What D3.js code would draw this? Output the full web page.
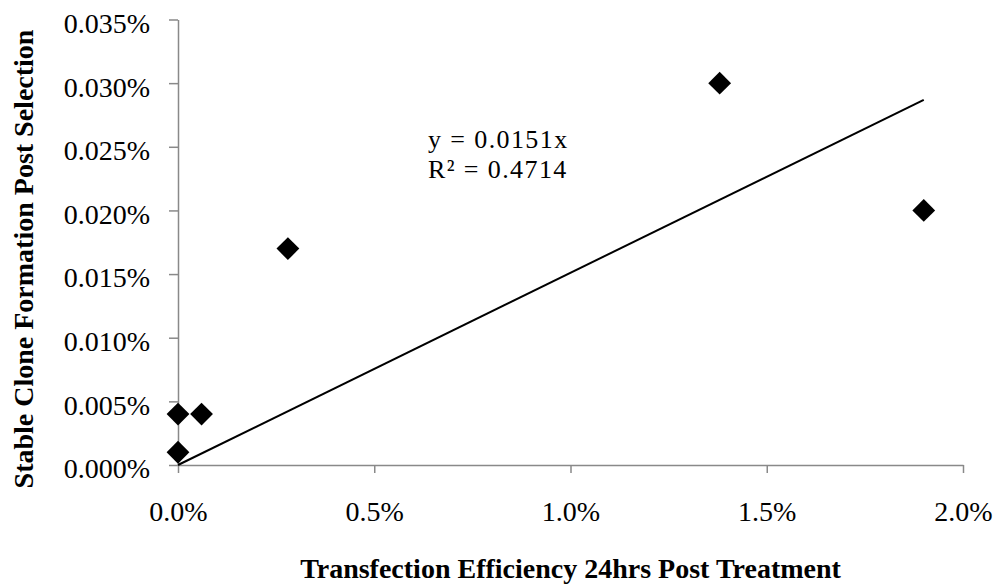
<!DOCTYPE html>
<html lang="en">
<head>
  <meta charset="UTF-8">
  <title>Stable clone formation vs transfection efficiency</title>
  <script src="https://d3js.org/d3.v7.min.js"></script>
  <style>
    body { margin: 0; background: #fff; }
    text { font-family: 'Liberation Serif', 'Times New Roman', serif; fill: #000; }
    .tick-label { font-size: 28px; }
    .axis-title { font-size: 28px; font-weight: bold; }
    .eq { font-size: 26px; letter-spacing: 1.4px; }
  </style>
</head>
<body>
  <script>
    // values in percent
    var transfection = [0.0, 0.0, 0.06, 0.28, 1.38, 1.90];
    var stableClone = [0.001, 0.004, 0.004, 0.017, 0.030, 0.020];
    var xTicks = [0, 0.5, 1.0, 1.5, 2.0];
    var yTicks = [0, 0.005, 0.010, 0.015, 0.020, 0.025, 0.030, 0.035];
    var slope = 0.0151;
    var rSquared = 0.4714;

    var width = 997, height = 585;
    var plotLeft = 178, plotRight = 963, plotTop = 19.5, plotBottom = 465;

    var svg = d3.select("body").append("svg")
      .attr("width", width)
      .attr("height", height);

    var x = d3.scaleLinear().domain([0, 2]).range([plotLeft, plotRight]);
    var y = d3.scaleLinear().domain([0, 0.035]).range([plotBottom, plotTop]);

    var axisColor = "#898989";

    // y axis
    var yAxis = svg.append("g")
      .attr("transform", "translate(" + plotLeft + ",0)")
      .call(d3.axisLeft(y).tickValues(yTicks).tickSizeInner(9).tickSizeOuter(0)
        .tickFormat(function (d) { return d.toFixed(3) + "%"; }));
    yAxis.attr("font-family", null).attr("font-size", null);
    yAxis.select(".domain").attr("stroke", axisColor).attr("stroke-width", 1.5);
    yAxis.selectAll(".tick line").attr("stroke", axisColor).attr("stroke-width", 1.5);
    yAxis.selectAll(".tick text")
      .attr("class", "tick-label")
      .attr("x", -28)
      .attr("dy", "0.46em");

    // x axis
    var xAxis = svg.append("g")
      .attr("transform", "translate(0," + plotBottom + ")")
      .call(d3.axisBottom(x).tickValues(xTicks).tickSizeInner(8).tickSizeOuter(0)
        .tickFormat(function (d) { return d.toFixed(1) + "%"; }));
    xAxis.attr("font-family", null).attr("font-size", null);
    xAxis.select(".domain").attr("stroke", axisColor).attr("stroke-width", 1.5);
    xAxis.selectAll(".tick line").attr("stroke", axisColor).attr("stroke-width", 1.5);
    xAxis.selectAll(".tick text")
      .attr("class", "tick-label")
      .attr("y", 56)
      .attr("dy", 0);

    // linear trendline through origin
    var xMax = d3.max(transfection);
    svg.append("line")
      .attr("x1", x(0)).attr("y1", y(0))
      .attr("x2", x(xMax)).attr("y2", y(slope * xMax))
      .attr("stroke", "#000")
      .attr("stroke-width", 2);

    // points as diamonds
    var pts = transfection.map(function (d, i) { return { x: d, y: stableClone[i] }; });
    svg.selectAll(".pt")
      .data(pts)
      .enter().append("path")
      .attr("class", "pt")
      .attr("d", d3.symbol().type(d3.symbolSquare).size(260))
      .attr("transform", function (d) { return "translate(" + x(d.x) + "," + y(d.y) + ") rotate(45)"; })
      .attr("fill", "#000");

    // equation
    var eq = svg.append("text").attr("class", "eq");
    eq.append("tspan").attr("x", 428).attr("y", 148).text("y = " + slope + "x");
    eq.append("tspan").attr("x", 428).attr("y", 178).text("R\u00b2 = " + rSquared);

    // axis titles
    svg.append("text")
      .attr("class", "axis-title")
      .attr("text-anchor", "middle")
      .attr("x", (plotLeft + plotRight) / 2)
      .attr("y", 578)
      .text("Transfection Efficiency 24hrs Post Treatment");

    svg.append("text")
      .attr("class", "axis-title")
      .attr("text-anchor", "middle")
      .attr("transform", "translate(33,259) rotate(-90)")
      .text("Stable Clone Formation Post Selection");
  </script>
</body>
</html>
